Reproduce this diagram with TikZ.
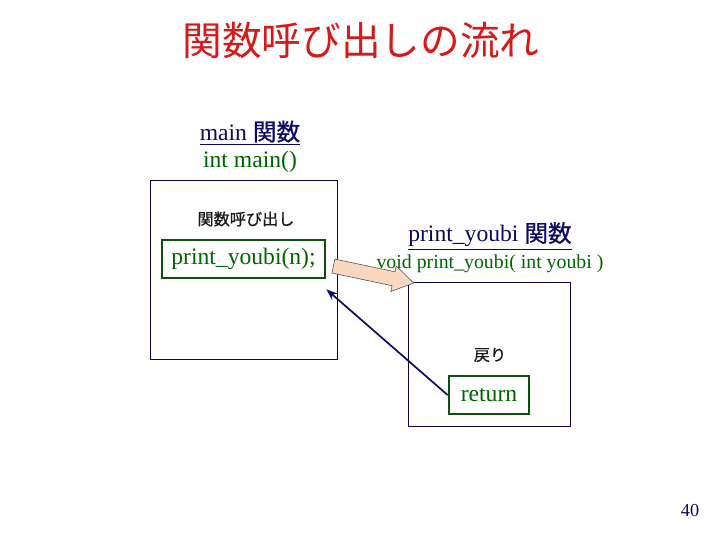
\documentclass[tikz,border=0pt]{standalone}
\usepackage{fontspec}
\setmainfont{Liberation Serif}
\newfontfamily\jpfont{Noto Sans CJK JP}
\newfontfamily\jpheavy{Noto Sans CJK JP}[FakeBold=0.7]
\usepackage{xcolor}
\usepackage{tikz}
\usetikzlibrary{shapes.arrows, arrows.meta, calc}

\definecolor{navy}{RGB}{10,10,100}
\definecolor{codegreen}{RGB}{0,100,0}
\definecolor{boxgreen}{RGB}{15,80,15}
\definecolor{titlered}{RGB}{215,25,25}
\definecolor{peach}{RGB}{250,216,192}

\begin{document}
\begin{tikzpicture}[
  mainfont/.style={font=\fontsize{16.8}{20}\selectfont},
  titletext/.style={font=\jpfont\fontsize{28.2}{32}\selectfont, text=titlered},
  fnlabel/.style={mainfont, text=navy, inner sep=1pt},
  sigtext/.style={mainfont, text=codegreen, inner sep=1pt},
  jplabel/.style={font=\jpheavy\fontsize{11.5}{14}\selectfont, text=black!90},
  fnbox/.style={
    draw=navy!70!black, thin, inner sep=0pt
  },
  codebox/.style={
    draw=boxgreen, line width=2pt, mainfont, text=codegreen,
    inner sep=0pt, minimum height=0.95cm
  },
  callarrow/.style={
    single arrow, draw=black!70, thin, fill=peach,
    minimum height=2.05cm, inner sep=0.171cm,
    single arrow head extend=0.15cm, single arrow tip angle=65
  },
  retarrow/.style={-{Stealth[length=8pt, width=6pt]}, navy, line width=1.2pt}
]
\useasboundingbox (0,0) rectangle (18,-13.5);

% ── Title ────────────────────────────────────────────────────
\node[titletext] (title) at (9.025,-1.0) {関数呼び出しの流れ};

% ── main function ────────────────────────────────────────────
\node[fnlabel] (mainname) at (6.25,-3.325) {\underline{main {\jpheavy 関数}}};
\node[sigtext] (mainsig) at (6.25,-4.05) {int main()};
\node[fnbox, minimum width=4.675cm, minimum height=4.475cm] (mainbox) at (6.0875,-6.7375) {};
\node[jplabel] (calllabel) at (6.15,-5.475) {関数呼び出し};
\node[codebox, minimum width=4.075cm] (callbox) at (6.0875,-6.475) {print\_youbi(n);};

% ── print_youbi function ─────────────────────────────────────
\node[fnlabel] (subname) at (12.25,-5.9) {\underline{print\_youbi {\jpheavy 関数}}};
\node[sigtext, font=\fontsize{14.1}{17}\selectfont] (subsig) at (12.25,-6.6) {void print\_youbi( int youbi )};
\node[fnbox, minimum width=4.05cm, minimum height=3.6cm] (subbox) at (12.225,-8.85) {};
\node[jplabel] (retlabel) at (12.25,-8.875) {戻り};
\node[codebox, minimum width=2.0cm] (retbox) at (12.225,-9.875) {return};

% ── Call arrow ───────────────────────────────────────────────
\coordinate (calltail) at ([shift={(0.05,-0.15)}]callbox.east);
\path (calltail) -- (subbox.north west) node[midway, sloped, callarrow] (callarr) {};

% ── Return arrow ─────────────────────────────────────────────
\coordinate (retend) at ([shift={(0,-0.25)}]callbox.south east);
\draw[retarrow] (retbox.west) -- (retend);

% page number
\node[text=navy, font=\fontsize{13}{15}\selectfont] (pageno) at (17.25,-12.775) {40};

\end{tikzpicture}
\end{document}
